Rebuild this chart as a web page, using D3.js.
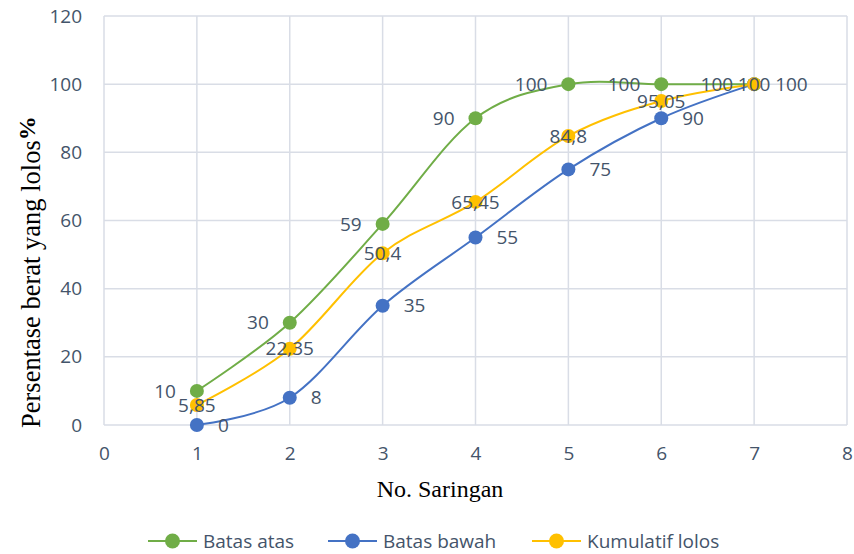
<!DOCTYPE html>
<html>
<head>
<meta charset="utf-8">
<script src="https://cdn.jsdelivr.net/npm/d3@7"></script>
<style>
  body { margin: 0; background: #fff; }
  svg { display: block; }
</style>
</head>
<body>
<svg id="chart"></svg>
<script>
const width = 854;
const height = 554;

// Data
const saringan = [1, 2, 3, 4, 5, 6, 7];
const batasAtas = [10, 30, 59, 90, 100, 100, 100];
const batasBawah = [0, 8, 35, 55, 75, 90, 100];
const kumulatifLolos = [5.85, 22.35, 50.4, 65.45, 84.8, 95.05, 100];
const xTicks = [0, 1, 2, 3, 4, 5, 6, 7, 8];
const yTicks = [0, 20, 40, 60, 80, 100, 120];

const series = [
  { name: 'Batas atas', values: batasAtas, color: '#70AD47', labelPos: 'left' },
  { name: 'Batas bawah', values: batasBawah, color: '#4472C4', labelPos: 'right' },
  { name: 'Kumulatif lolos', values: kumulatifLolos, color: '#FFC000', labelPos: 'center' }
];

const margin = { left: 104, right: 7, top: 16, bottom: 129 };
const textColor = '#44546A';
const font = "'Open Sans', sans-serif";
const fontSize = '19px';

const svg = d3.select('#chart').attr('width', width).attr('height', height);

const x = d3.scaleLinear().domain([0, 8]).range([margin.left, width - margin.right]);
const y = d3.scaleLinear().domain([0, 120]).range([height - margin.bottom, margin.top]);

// gridlines
svg.append('g').selectAll('line')
  .data(yTicks)
  .enter().append('line')
  .attr('x1', x(0)).attr('x2', x(8))
  .attr('y1', d => y(d)).attr('y2', d => y(d))
  .style('stroke', '#D9DDE6').style('stroke-width', 1.5);

svg.append('g').selectAll('line')
  .data(xTicks)
  .enter().append('line')
  .attr('y1', y(0)).attr('y2', y(120))
  .attr('x1', d => x(d)).attr('x2', d => x(d))
  .style('stroke', '#D9DDE6').style('stroke-width', 1.5);

// tick labels
const yAxis = svg.append('g')
  .attr('transform', `translate(${x(0)},0)`)
  .call(d3.axisLeft(y).tickValues(yTicks).tickSize(0).tickPadding(22));
const xAxis = svg.append('g')
  .attr('transform', `translate(0,${y(0)})`)
  .call(d3.axisBottom(x).tickValues(xTicks).tickSize(0).tickPadding(22));
[xAxis, yAxis].forEach(a => {
  a.select('.domain').remove();
  a.selectAll('text')
    .style('font-family', font).style('font-size', fontSize).style('fill', textColor);
});

// smooth lines
const line = d3.line()
  .x((d, i) => x(saringan[i]))
  .y(d => y(d))
  .curve(d3.curveCatmullRom.alpha(0));

series.forEach(s => {
  svg.append('path')
    .datum(s.values)
    .attr('d', line)
    .style('fill', 'none')
    .style('stroke', s.color)
    .style('stroke-width', 2);
});

series.forEach(s => {
  svg.append('g').selectAll('circle')
    .data(s.values)
    .enter().append('circle')
    .attr('cx', (d, i) => x(saringan[i]))
    .attr('cy', d => y(d))
    .attr('r', 7)
    .style('fill', s.color);
});

// data labels
const fmt = v => String(v).replace('.', ',');
series.forEach(s => {
  svg.append('g').selectAll('text')
    .data(s.values)
    .enter().append('text')
    .attr('x', (d, i) => {
      const px = x(saringan[i]);
      if (s.labelPos === 'left') return px - 21;
      if (s.labelPos === 'right') return px + 21;
      return px;
    })
    .attr('y', d => y(d))
    .attr('dy', '0.35em')
    .attr('text-anchor', s.labelPos === 'left' ? 'end' : s.labelPos === 'right' ? 'start' : 'middle')
    .style('font-family', font).style('font-size', fontSize).style('fill', textColor)
    .text(d => fmt(d));
});

// axis titles
svg.append('text')
  .attr('x', 440).attr('y', 497)
  .attr('text-anchor', 'middle')
  .style('font-family', "'Liberation Serif', serif").style('font-size', '24px').style('fill', '#000')
  .text('No. Saringan');

const yTitle = svg.append('text')
  .attr('transform', 'translate(40,428) rotate(-90)')
  .attr('text-anchor', 'start')
  .style('font-family', "'Liberation Serif', serif").style('font-size', '26.5px').style('fill', '#000');
yTitle.append('tspan').text('Persentase berat yang lolos');
yTitle.append('tspan').attr('dy', -5).style('font-weight', 'bold').style('font-size', '24px').text('%');

// legend
const legendX = [148, 328, 532];
series.forEach((s, i) => {
  const lg = svg.append('g').attr('transform', `translate(${legendX[i]},541)`);
  lg.append('line').attr('x1', 0).attr('x2', 49).attr('y1', 0).attr('y2', 0)
    .style('stroke', s.color).style('stroke-width', 2);
  lg.append('circle').attr('cx', 24.5).attr('cy', 0).attr('r', 7.5).style('fill', s.color);
  lg.append('text').attr('x', 55).attr('y', 0).attr('dy', '0.35em')
    .style('font-family', font).style('font-size', fontSize).style('fill', textColor)
    .text(s.name);
});
</script>
</body>
</html>
